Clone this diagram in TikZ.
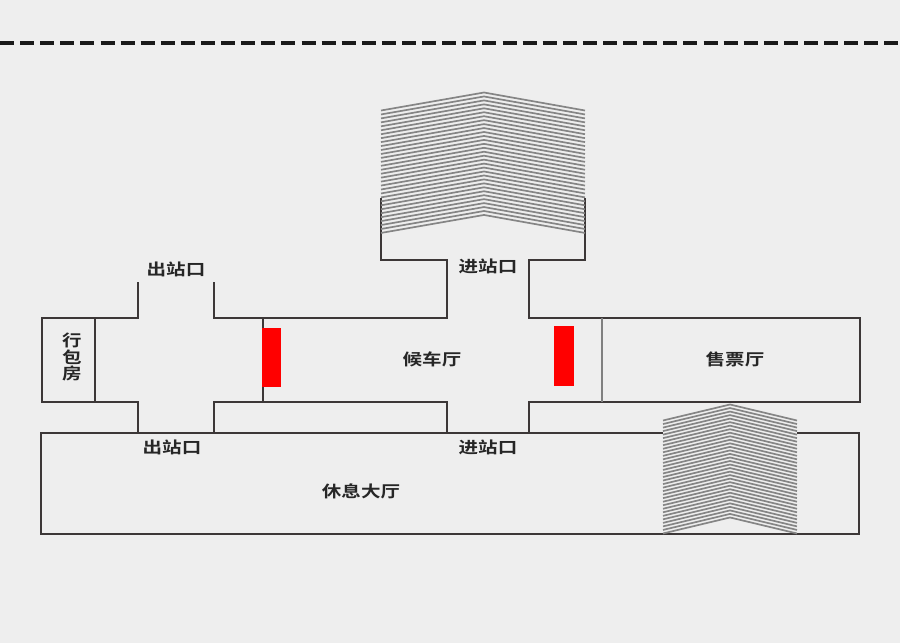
\documentclass[tikz,border=0pt]{standalone}
\usepackage{fontspec}
\usepackage{xcolor}
\setmainfont{Noto Sans CJK SC Bold}
\definecolor{bgcol}{HTML}{EEEEEE}
\definecolor{wallcol}{HTML}{3C3737}
\definecolor{hatchcol}{HTML}{858585}

\begin{document}
\begin{tikzpicture}[x=1pt, y=-1pt]
    \tikzstyle{wall} = [draw=wallcol, line width=1.8pt, line join=miter]
    \tikzstyle{thinwall} = [draw=gray, line width=1.2pt]
    \tikzstyle{hatch} = [draw=hatchcol, line width=1.7pt]
    \tikzstyle{gate} = [fill=red, draw=none]
    \tikzstyle{roomlabel} = [inner sep=0pt, xscale=1.22, text=black!85, font=\fontsize{16pt}{16.5pt}\selectfont, align=center]

    % Background
    \useasboundingbox (0,0) rectangle (900,643);
    \fill[bgcol] (0,0) rectangle (900,643);

    % Track edge
    \draw[black!90, line width=4pt, dash pattern=on 14pt off 6.1pt] (0,43) -- (900,43);

    % Outer walls
    \draw[wall] (138,282) -- (138,318) -- (42,318) -- (42,402) -- (138,402) -- (138,433);
    \draw[wall] (214,282) -- (214,318) -- (447,318) -- (447,260) -- (381,260) -- (381,198);
    \draw[wall] (585,198) -- (585,260) -- (529,260) -- (529,318) -- (860,318) -- (860,402) -- (529,402) -- (529,433);
    \draw[wall] (447,433) -- (447,402) -- (214,402) -- (214,433);

    % Inner walls
    \draw[wall] (95,318) -- (95,402);
    \draw[wall] (263,318) -- (263,402);
    \draw[thinwall] (602,318) -- (602,402);

    % Rest hall
    \draw[wall] (663,433) -- (41,433) -- (41,534) -- (859,534) -- (859,433) -- (797,433);

    % Stairs
    \foreach \i in {0,...,31} {
        \draw[hatch] (381,110.5+3.95*\i) -- (484,92.5+3.95*\i) -- (585,110.5+3.95*\i);
    }
    \foreach \i in {0,...,32} {
        \draw[hatch] (663,420.5+3.53*\i) -- (730,404.5+3.53*\i) -- (797,420.5+3.53*\i);
    }

    % Gates
    \fill[gate] (262,328) rectangle (281,387);
    \fill[gate] (554,326) rectangle (574,386);

    % Labels
    \node[roomlabel] (exittop) at (176,269) {出站口};
    \node[roomlabel] (entrytop) at (488,266) {进站口};
    \node[roomlabel] (baggage) at (72,357) {行\\包\\房};
    \node[roomlabel] (waiting) at (432,359) {候车厅};
    \node[roomlabel] (ticket) at (735,359) {售票厅};
    \node[roomlabel] (exitlow) at (172,447) {出站口};
    \node[roomlabel] (entrylow) at (488,447) {进站口};
    \node[roomlabel] (resthall) at (361,491) {休息大厅};
\end{tikzpicture}
\end{document}
